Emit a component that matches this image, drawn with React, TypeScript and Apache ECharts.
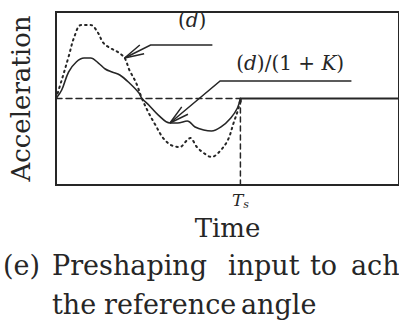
import React, { useEffect, useRef } from "react";
import * as echarts from "echarts";

// Time is normalised so that the shaping interval ends at Ts = 1.
const TS = 1;
const X_MAX = 1.86;

// Preshaped acceleration input (d)/(1 + K): [time, acceleration]
const shapedInput: [number, number][] = [
  [0, 0], [0.031, 0.098], [0.068, 0.306], [0.11, 0.422], [0.152, 0.468],
  [0.188, 0.468], [0.23, 0.41], [0.267, 0.341], [0.304, 0.306], [0.346, 0.272],
  [0.398, 0.179], [0.45, 0.064], [0.466, 0], [0.503, -0.075], [0.555, -0.191],
  [0.618, -0.283], [0.66, -0.283], [0.712, -0.26], [0.754, -0.329], [0.801, -0.364],
  [0.843, -0.376], [0.895, -0.329], [0.948, -0.225], [0.984, -0.11], [1.0, 0],
];

// Unscaled input (d)
const rawInput: [number, number][] = [
  [0, 0], [0.031, 0.214], [0.068, 0.48], [0.099, 0.711], [0.136, 0.85],
  [0.188, 0.85], [0.225, 0.769], [0.257, 0.642], [0.293, 0.584], [0.335, 0.538],
  [0.372, 0.468], [0.398, 0.329], [0.435, 0.179], [0.466, 0], [0.503, -0.168],
  [0.539, -0.306], [0.581, -0.457], [0.623, -0.538], [0.67, -0.561], [0.712, -0.48],
  [0.728, -0.457], [0.764, -0.561], [0.801, -0.63], [0.843, -0.676], [0.885, -0.618],
  [0.932, -0.48], [0.963, -0.283], [0.99, -0.11], [1.0, 0],
];

// Reference levels
const zeroBefore: [number, number][] = [[0, 0], [TS, 0]];
const zeroAfter: [number, number][] = [[TS, 0], [X_MAX, 0]];
const tsMarker: [number, number][] = [[TS, -1], [TS, 0]];

// Leader lines for the curve annotations: tip, elbow, end of underline
const rawLeader: [number, number][] = [[0.372, 0.468], [0.513, 0.618], [0.848, 0.618]];
const shapedLeader: [number, number][] = [[0.618, -0.283], [0.89, 0.202], [1.602, 0.202]];
const rawLabelAt: [number, number] = [0.738, 0.907];
const shapedLabelAt: [number, number] = [1.27, 0.41];

const captionLine1: [string, number][] = [
  ["(e)", 3], ["Preshaping", 52], ["input", 228], ["to", 310], ["ach", 351],
];
const captionLine2: [string, number][] = [
  ["the", 52], ["reference", 104], ["angle", 241],
];

const INK = "#262626";
const SERIF = "DejaVu Serif";

export default function App() {
  const ref = useRef<HTMLDivElement>(null);

  useEffect(() => {
    if (!ref.current) return;
    const chart = echarts.init(ref.current, null, { renderer: "svg" });

    const line = (data: [number, number][], type: any, width: number, smooth: number | boolean = false) => ({
      type: "line",
      data,
      smooth,
      symbol: "none",
      silent: true,
      lineStyle: { color: INK, width, type, cap: "round" },
    });

    chart.setOption({
      animation: false,
      backgroundColor: "#ffffff",
      grid: {
        left: 54,
        top: 12,
        right: -10,
        bottom: 142,
        show: true,
        borderColor: INK,
        borderWidth: 2,
        backgroundColor: "transparent",
      },
      xAxis: {
        type: "value",
        min: 0,
        max: X_MAX,
        axisLine: { show: false },
        splitLine: { show: false },
        axisTick: { show: true, customValues: [TS], length: 4, lineStyle: { color: INK, width: 1.5 } },
        axisLabel: {
          show: true,
          customValues: [TS],
          margin: 5,
          formatter: () => "{t|T}{s|s}",
          rich: {
            t: { fontFamily: SERIF, fontStyle: "italic", fontSize: 17, color: INK },
            s: { fontFamily: SERIF, fontStyle: "italic", fontSize: 11, color: INK, padding: [9, 0, 0, 0] },
          },
        },
        name: "Time",
        nameLocation: "middle",
        nameGap: 19,
        nameTextStyle: { fontFamily: SERIF, fontSize: 26, color: INK },
      },
      yAxis: {
        type: "value",
        min: -1,
        max: 1,
        axisLine: { show: false },
        axisTick: { show: false },
        axisLabel: { show: false },
        splitLine: { show: false },
        name: "Acceleration",
        nameLocation: "middle",
        nameGap: 22,
        nameTextStyle: { fontFamily: SERIF, fontSize: 26, color: INK },
      },
      series: [
        line(zeroBefore, [6, 4], 1.5),
        line(zeroAfter, "solid", 2),
        line(tsMarker, [5, 4], 1.5),
        line(rawInput, [1.5, 4], 2, 0.35),
        line(shapedInput, "solid", 1.6, 0.35),
      ],
    });

    const px = (p: [number, number]) => chart.convertToPixel({ gridIndex: 0 }, p) as number[];

    // leader line with an open arrowhead at its first point
    const leader = (pts: [number, number][]) => {
      const p = pts.map(px);
      const [tx, ty] = p[0];
      const [ex, ey] = p[1];
      const ang = Math.atan2(ey - ty, ex - tx);
      const len = 20;
      const spread = (14 * Math.PI) / 180;
      const barb = (a: number) => [tx + len * Math.cos(a), ty + len * Math.sin(a)];
      return [
        { type: "polyline", shape: { points: p }, style: { stroke: INK, lineWidth: 1.5, fill: null } },
        {
          type: "polyline",
          shape: { points: [barb(ang - spread), [tx, ty], barb(ang + spread)] },
          style: { stroke: INK, lineWidth: 1.5, fill: null },
        },
      ];
    };

    const label = (at: [number, number], text: string) => {
      const [x, y] = px(at);
      return {
        type: "text",
        x,
        y,
        style: {
          text,
          fill: INK,
          font: `20px "${SERIF}"`,
          align: "center",
          verticalAlign: "middle",
          rich: { i: { fontStyle: "italic", fontFamily: SERIF, fontSize: 20, fill: INK } },
        },
      };
    };

    const caption = (words: [string, number][], y: number) =>
      words.map(([w, x]) => ({
        type: "text",
        x,
        y,
        style: { text: w, fill: INK, font: `27px "${SERIF}"`, align: "left", verticalAlign: "middle" },
      }));

    chart.setOption({
      graphic: [
        ...leader(rawLeader),
        ...leader(shapedLeader),
        label(rawLabelAt, "({i|d})"),
        label(shapedLabelAt, "({i|d})/(1 + {i|K})"),
        ...caption(captionLine1, 265),
        ...caption(captionLine2, 304),
      ],
    });

    return () => chart.dispose();
  }, []);

  return (
    <div
      ref={ref}
      style={{ position: "fixed", left: 0, top: 0, width: 399, height: 327, background: "#fff" }}
    />
  );
}
